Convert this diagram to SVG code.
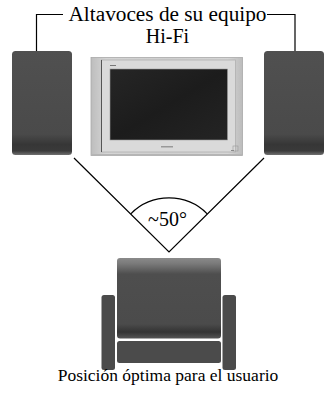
<svg xmlns="http://www.w3.org/2000/svg" width="325" height="393" viewBox="0 0 325 393">
  <style>
    .label { font-family: "Liberation Serif", "Times New Roman", serif; fill: #000; text-anchor: middle; }
    .wire { fill: none; stroke: #000; stroke-width: 1.2; }
    .dark { fill: #4b4b4b; }
  </style>
  <defs>
    <linearGradient id="speakerShade" x1="0" y1="0" x2="0" y2="1">
      <stop offset="0" stop-color="#505050"/>
      <stop offset="0.8" stop-color="#4a4a4a"/>
      <stop offset="0.9" stop-color="#363636"/>
      <stop offset="0.96" stop-color="#3a3a3a"/>
      <stop offset="1" stop-color="#707070"/>
    </linearGradient>
    <linearGradient id="backShade" x1="0" y1="0" x2="0" y2="1">
      <stop offset="0" stop-color="#8a8a8a"/>
      <stop offset="0.07" stop-color="#7a7a7a"/>
      <stop offset="0.2" stop-color="#4e4e4e"/>
      <stop offset="0.82" stop-color="#4b4b4b"/>
      <stop offset="0.92" stop-color="#333"/>
      <stop offset="1" stop-color="#555"/>
    </linearGradient>
    <linearGradient id="tvSilver" x1="0" y1="0" x2="1" y2="0">
      <stop offset="0" stop-color="#bdbdbd"/>
      <stop offset="0.1" stop-color="#d4d4d4"/>
      <stop offset="0.5" stop-color="#cfcfcf"/>
      <stop offset="0.9" stop-color="#d6d6d6"/>
      <stop offset="1" stop-color="#bcbcbc"/>
    </linearGradient>
    <linearGradient id="screenShade" x1="0" y1="0" x2="1" y2="1">
      <stop offset="0" stop-color="#262626"/>
      <stop offset="0.5" stop-color="#1c1c1c"/>
      <stop offset="1" stop-color="#242424"/>
    </linearGradient>
  </defs>

  <rect width="325" height="393" fill="#fff"/>

  <!-- connectors: speaker bracket, viewing angle -->
  <g id="connectors">
    <path class="wire" d="M63,14.5 H36.5 V51"/>
    <path class="wire" d="M267,14.5 H295 V51"/>
    <path class="wire" d="M74,158 L169,252 L264,158"/>
    <path class="wire" d="M130.8,213.8 A54,54 0 0 1 207.2,213.8"/>
  </g>

  <g id="title">
    <text class="label" x="167.5" y="20.5" font-size="20" textLength="198" lengthAdjust="spacingAndGlyphs">Altavoces de su equipo</text>
    <text class="label" x="167.5" y="42.8" font-size="20">Hi-Fi</text>
  </g>

  <g id="speaker-left">
    <rect x="12" y="51" width="60" height="104" rx="3.5" fill="url(#speakerShade)"/>
  </g>
  <g id="speaker-right">
    <rect x="264" y="51" width="60" height="104" rx="3.5" fill="url(#speakerShade)"/>
  </g>

  <g id="tv">
    <rect x="91" y="57.5" width="151.5" height="98" fill="url(#tvSilver)"/>
    <rect x="91" y="57.5" width="151.5" height="98" fill="none" stroke="#a8a8a8" stroke-width="0.8"/>
    <rect x="101.5" y="60" width="134" height="92" fill="#dadada" stroke="#b0b0b0" stroke-width="0.8"/>
    <line x1="101.5" y1="60" x2="101.5" y2="152" stroke="#555" stroke-width="1"/>
    <rect x="110" y="69" width="117.5" height="71" fill="url(#screenShade)" stroke="#9a9a9a" stroke-width="0.6"/>
    <rect x="110" y="65" width="6" height="1" fill="#777"/>
    <rect x="161" y="146" width="12" height="1.5" fill="#999"/>
    <rect x="233" y="146" width="5" height="5" fill="none" stroke="#999" stroke-width="0.6"/>
    <rect x="231" y="150" width="3" height="1" fill="#888"/>
    <line x1="92" y1="154.5" x2="242" y2="154.5" stroke="#b5b5b5" stroke-width="1"/>
  </g>

  <g id="angle-label">
    <text class="label" x="167.5" y="226" font-size="20">~50°</text>
  </g>

  <g id="armchair">
    <rect x="117" y="258" width="104" height="80.5" rx="3" fill="url(#backShade)"/>
    <rect x="117" y="341" width="104" height="22" rx="2.5" class="dark"/>
    <rect x="101.5" y="295" width="13.5" height="75" rx="2.5" class="dark"/>
    <rect x="222.5" y="295" width="13.5" height="75" rx="2.5" class="dark"/>
  </g>

  <g id="caption">
    <text class="label" x="168" y="381" font-size="17.5">Posición óptima para el usuario</text>
  </g>
</svg>
